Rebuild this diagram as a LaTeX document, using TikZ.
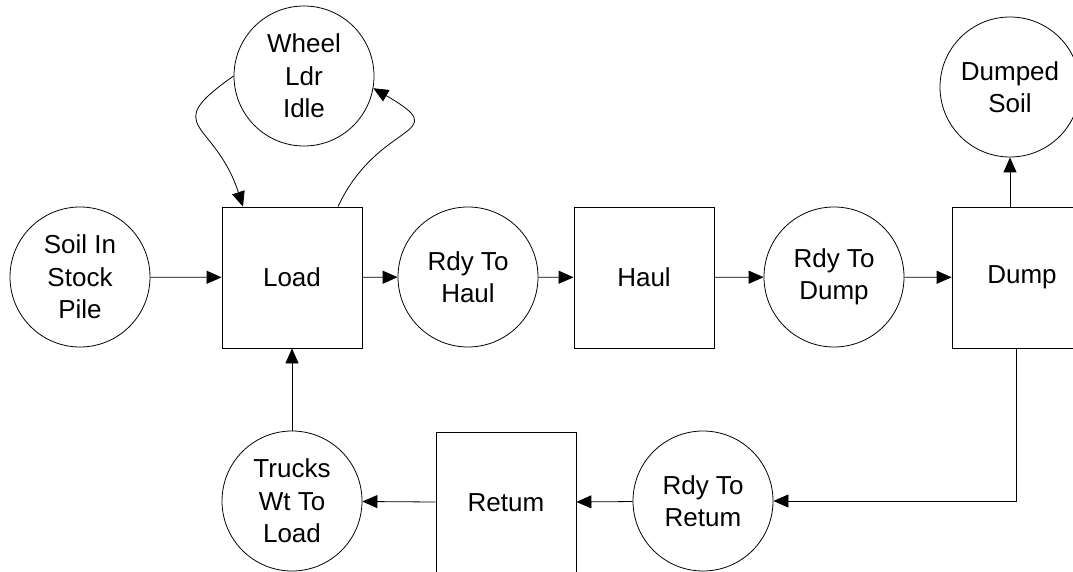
\documentclass[tikz,border=0pt]{standalone}
\usepackage{fontspec}
\setmainfont{Liberation Sans}
\usetikzlibrary{arrows.meta}

\tikzset{
  place/.style={draw,circle,minimum size=140pt,inner sep=0pt,align=center,
    font=\fontsize{26}{32.5}\selectfont},
  activity/.style={draw,rectangle,minimum width=140pt,minimum height=141pt,
    inner sep=0pt,align=center,font=\fontsize{26}{32.5}\selectfont}
}

\begin{document}
\begin{tikzpicture}[>={Triangle[length=15pt,width=13pt]},x=1pt,y=1pt,line width=0.8pt]
        \clip (0,0) rectangle (1073,571);
        % upper row
        \node[place] (soil) at (80,294) {Soil In\\Stock\\Pile};
        \node[activity] (load) at (292,293.5) {Load};
        \node[place] (rdyhaul) at (468,294) {Rdy To\\Haul};
        \node[activity] (haul) at (644,293.5) {Haul};
        \node[place] (rdydump) at (834,294) {Rdy To\\Dump};
        \node[activity] (dump) at (1022,293.5) {Dump};
        \node[place] (dumped) at (1010,484) {Dumped\\Soil};
        \node[place] (idle) at (304,495) {Wheel\\Ldr\\Idle};
        % lower row
        \node[place] (rdyret) at (703,70) {Rdy To\\Retum};
        \node[activity] (ret) at (506,68.5) {Retum};
        \node[place] (wait) at (292,70) {Trucks\\Wt To\\Load};
        \draw[->](soil)--(load);
        \draw[->](load)--(rdyhaul);
        \draw[->](rdyhaul)--(haul);
        \draw[->](haul)--(rdydump);
        \draw[->](rdydump)--(dump);
        \draw[->](dump.north -| dumped)--(dumped);
        \draw[->]([xshift=-6pt]dump.south)|-(rdyret);
        \draw[->](rdyret)--(ret);
        \draw[->](ret)--(wait);
        \draw[->](wait)--(load);
        \draw[->](idle.west) to [out=215,in=108,looseness=1.8]([xshift=-49pt]load.north);
        \draw[->]([xshift=46pt]load.north) to [out=65,in=-30,looseness=2](idle.-10);
    \end{tikzpicture}
\end{document}
